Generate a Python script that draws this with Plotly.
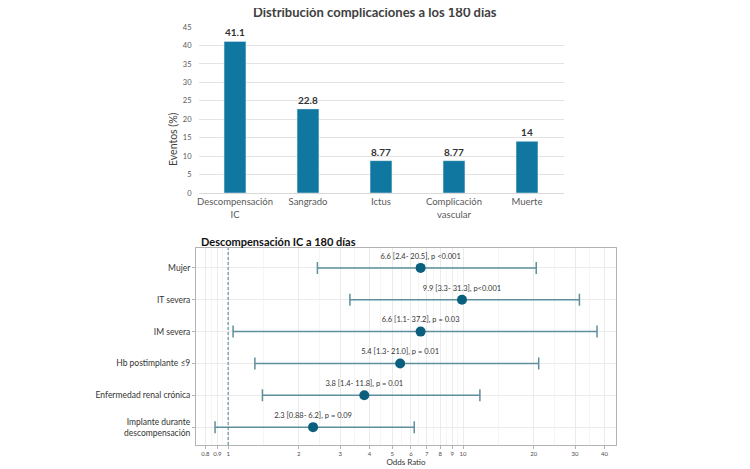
import math
import plotly.graph_objects as go

# top chart: complicaciones a 180 dias
categorias = ["Descompensación<br>IC", "Sangrado", "Ictus", "Complicación<br>vascular", "Muerte"]
eventos = [41.1, 22.8, 8.77, 8.77, 14]

# bottom chart: forest plot OR
variables = ["Mujer", "IT severa", "IM severa", "Hb postimplante ≤9",
             "Enfermedad renal crónica", "Implante durante<br>descompensación"]
odds = [6.6, 9.9, 6.6, 5.4, 3.8, 2.3]
ic_bajo = [2.4, 3.3, 1.05, 1.3, 1.4, 0.88]
ic_alto = [20.5, 31.3, 37.2, 21.0, 11.8, 6.2]
etiquetas = ["6.6 [2.4- 20.5], p <0.001", "9.9 [3.3- 31.3], p<0.001",
             "6.6 [1.1- 37.2], p = 0.03", "5.4 [1.3- 21.0], p = 0.01",
             "3.8 [1.4- 11.8], p = 0.01", "2.3 [0.88- 6.2], p = 0.09"]
or_ticks = [0.8, 0.9, 1, 2, 3, 4, 5, 6, 7, 8, 9, 10, 20, 30, 40]

W, H = 750, 469
OFF = 8  # page body margin


def px(x):
    return (x - OFF) / W


def py(y):
    return 1 - (y - OFF) / H


FONT = "Lato"
fig = go.Figure()

fig.add_trace(go.Bar(
    x=categorias, y=eventos, marker_color="#0F77A0", width=0.3,
    texttemplate="<b>%{y}</b>", textposition="outside", cliponaxis=False,
    textfont=dict(size=10, color="#333333", family=FONT),
    xaxis="x", yaxis="y", showlegend=False,
))

fig.add_trace(go.Scatter(
    x=odds, y=variables, mode="markers+text",
    text=etiquetas, textposition="top center",
    textfont=dict(size=7.5, color="#333333", family=FONT),
    marker=dict(size=10, color="#0B5F7E"),
    error_x=dict(type="data", symmetric=False,
                 array=[h - o for h, o in zip(ic_alto, odds)],
                 arrayminus=[o - l for o, l in zip(odds, ic_bajo)],
                 color="#5F8E9C", thickness=1.5, width=6),
    xaxis="x2", yaxis="y2", showlegend=False, cliponaxis=False,
))

minor_vals = [math.sqrt(a * b) for a, b in zip(or_ticks[:-1], or_ticks[1:])]

fig.update_layout(
    width=W, height=H,
    margin=dict(l=0, r=0, t=0, b=0),
    paper_bgcolor="white", plot_bgcolor="white",
    font=dict(family=FONT, color="#404040"),
    xaxis=dict(domain=[px(198.5), px(563.5)], anchor="y", automargin=False,
               tickfont=dict(size=9.5, color="#595959"),
               showline=True, linecolor="#D9D9D9", linewidth=1,
               ticks="", ticklabelstandoff=0),
    yaxis=dict(domain=[py(193), py(27)], anchor="x", range=[0, 45], dtick=5,
               automargin=False,
               tickfont=dict(size=7.5, color="#595959"),
               gridcolor="#E3E3E3", gridwidth=0.8, zeroline=False,
               ticks="", ticklabelstandoff=6),
    xaxis2=dict(domain=[px(196), px(616)], anchor="y2", type="log", automargin=False,
                range=[math.log10(0.73), math.log10(44.8)],
                tickvals=or_ticks, ticktext=[str(t) for t in or_ticks],
                tickfont=dict(size=6, color="#4D4D4D"),
                gridcolor="#EBEBEB", gridwidth=0.8,
                minor=dict(tickvals=minor_vals, showgrid=True,
                           gridcolor="#F5F5F5", gridwidth=0.6),
                showline=True, mirror=True, linecolor="#B3B3B3", linewidth=1,
                ticks="outside", ticklen=3, tickcolor="#B3B3B3",
                title=dict(text="Odds Ratio", standoff=1,
                           font=dict(size=8, color="#333333"))),
    yaxis2=dict(domain=[py(445), py(248)], anchor="x2", automargin=False,
                categoryorder="array", categoryarray=variables,
                range=[5.56, -0.625],
                tickfont=dict(size=8.5, color="#333333"),
                gridcolor="#EBEBEB", gridwidth=0.8,
                showline=True, mirror=True, linecolor="#B3B3B3", linewidth=1,
                ticks="outside", ticklen=3, tickcolor="#B3B3B3"),
)

fig.add_shape(type="line", xref="x2", yref="y2 domain", x0=1, x1=1, y0=0, y1=1,
              line=dict(color="#4A7F90", width=1, dash="3px,2px"))

fig.add_annotation(text="<b>Distribución complicaciones a los 180 días</b>",
                   xref="paper", yref="paper", x=px(375), y=py(11.5),
                   yanchor="middle", showarrow=False,
                   font=dict(size=13, color="#404040", family=FONT))
fig.add_annotation(text="Eventos (%)", xref="paper", yref="paper",
                   x=px(165), y=py(110), textangle=-90, showarrow=False,
                   font=dict(size=10.5, color="#404040", family=FONT))
fig.add_annotation(text="<b>Descompensación IC a 180 días</b>",
                   xref="paper", yref="paper", x=px(199), y=py(241),
                   xanchor="left", yanchor="middle", showarrow=False,
                   font=dict(size=11, color="#111111", family=FONT))

fig.write_html("out.html")
